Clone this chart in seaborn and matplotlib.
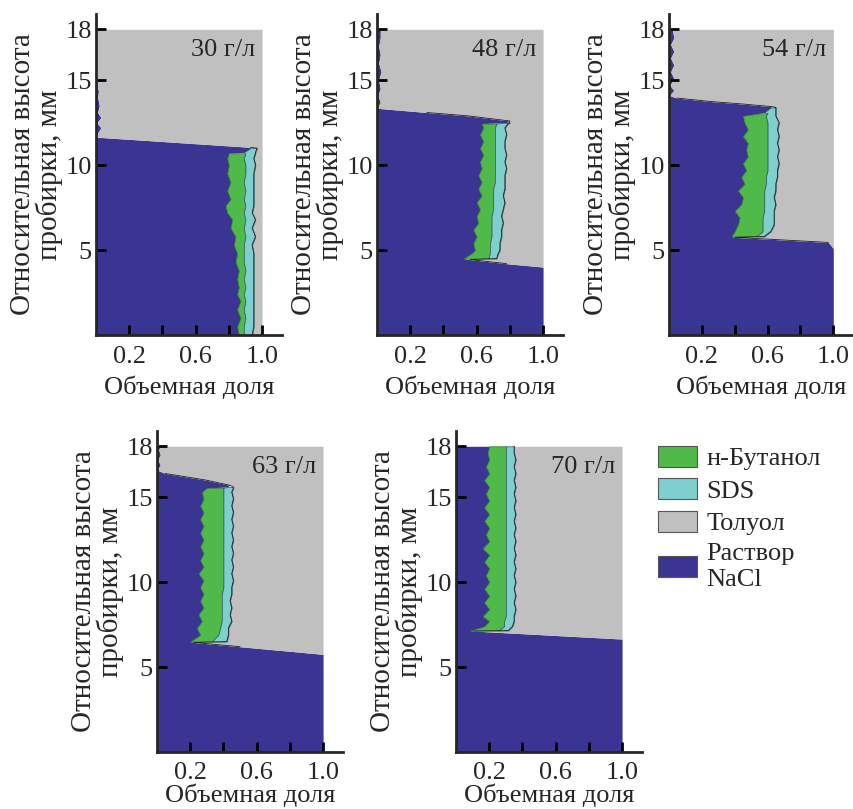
import numpy as np
import matplotlib
matplotlib.use("Agg")
import matplotlib.pyplot as plt
from matplotlib.patches import Patch
import seaborn as sns

# ---------------- data (volume fractions vs. relative height, mm) ----------------
PANEL_LABELS = ["30 г/л", "48 г/л", "54 г/л", "63 г/л", "70 г/л"]
LEGEND_LABELS = ["н-Бутанол", "SDS", "Толуол", "Раствор\nNaCl"]
XTICKS = [0.2, 0.4, 0.6, 0.8, 1.0]
XTICKLABELS = ["0.2", "", "0.6", "", "1.0"]
YTICKS = [5, 10, 15, 18]

H30 = [0.0, 0.5, 1.0, 1.5, 2.0, 2.4, 2.8, 3.3, 3.8, 4.3, 4.8, 5.3, 5.8, 6.3, 6.8,
       7.2, 7.6, 8.0, 8.5, 9.0, 9.5, 10.0, 10.4, 10.7, 10.75, 11.0, 11.05, 11.65,
       11.9, 12.2, 12.5, 12.8, 13.1, 13.5, 14.0, 14.4, 14.6, 18.0]
NACL30 = [0.86, 0.85, 0.87, 0.85, 0.87, 0.85, 0.86, 0.85, 0.86, 0.84, 0.85, 0.83, 0.84,
          0.81, 0.82, 0.79, 0.78, 0.81, 0.79, 0.81, 0.79, 0.80, 0.79, 0.80, 0.89, 0.93,
          0.93, 0.0, 0.01, 0.03, 0.005, 0.03, 0.01, 0.02, 0.01, 0.015, 0.0, 0.0]
BUT30 = [0.03, 0.04, 0.03, 0.04, 0.03, 0.04, 0.04, 0.04, 0.04, 0.05, 0.04, 0.06, 0.06,
         0.08, 0.08, 0.10, 0.12, 0.08, 0.11, 0.08, 0.11, 0.10, 0.10, 0.10, 0.0, 0.0,
         0.0, 0.0, 0.0, 0.0, 0.0, 0.0, 0.0, 0.0, 0.0, 0.0, 0.0, 0.0]
SDS30 = [0.05, 0.06, 0.05, 0.06, 0.05, 0.06, 0.05, 0.06, 0.05, 0.06, 0.06, 0.05, 0.06,
         0.05, 0.06, 0.05, 0.05, 0.06, 0.05, 0.06, 0.05, 0.06, 0.06, 0.06, 0.07, 0.04,
         0.0, 0.0, 0.0, 0.0, 0.0, 0.0, 0.0, 0.0, 0.0, 0.0, 0.0, 0.0]

H48 = [0.0, 4.0, 4.2, 4.44, 4.5, 4.8, 5.0, 5.4, 5.8, 6.2, 6.6, 7.0, 7.4, 7.8, 8.2, 8.6,
       9.0, 9.4, 9.8, 10.2, 10.6, 11.0, 11.4, 11.8, 12.2, 12.45, 12.5, 12.6, 12.9, 13.1,
       13.35, 13.7, 14.1, 14.5, 15.0, 15.5, 16.0, 16.5, 17.0, 17.5, 18.0]
NACL48 = [1.0, 1.0, 0.78, 0.56, 0.52, 0.57, 0.59, 0.58, 0.60, 0.58, 0.61, 0.60, 0.62,
          0.60, 0.63, 0.61, 0.63, 0.61, 0.63, 0.62, 0.64, 0.62, 0.64, 0.62, 0.64, 0.63,
          0.78, 0.80, 0.55, 0.30, 0.0, 0.02, 0.005, 0.02, 0.01, 0.025, 0.01, 0.02, 0.01,
          0.02, 0.02]
BUT48 = [0.0, 0.0, 0.0, 0.0, 0.15, 0.11, 0.09, 0.10, 0.09, 0.11, 0.08, 0.09, 0.08, 0.10,
         0.07, 0.09, 0.08, 0.10, 0.08, 0.09, 0.07, 0.09, 0.07, 0.09, 0.07, 0.09, 0.0,
         0.0, 0.0, 0.0, 0.0, 0.0, 0.0, 0.0, 0.0, 0.0, 0.0, 0.0, 0.0, 0.0, 0.0]
SDS48 = [0.0, 0.0, 0.0, 0.0, 0.05, 0.05, 0.06, 0.06, 0.06, 0.06, 0.07, 0.06, 0.06, 0.07,
         0.06, 0.07, 0.06, 0.06, 0.07, 0.06, 0.07, 0.06, 0.06, 0.07, 0.06, 0.07, 0.02,
         0.0, 0.0, 0.0, 0.0, 0.0, 0.0, 0.0, 0.0, 0.0, 0.0, 0.0, 0.0, 0.0, 0.0]

H54 = [0.0, 5.1, 5.45, 5.75, 5.8, 6.1, 6.5, 6.9, 7.3, 7.7, 8.1, 8.5, 8.9, 9.3, 9.7, 10.1,
       10.5, 10.9, 11.3, 11.7, 12.1, 12.5, 12.9, 13.05, 13.1, 13.4, 13.45, 13.6, 13.75,
       13.95, 14.1, 14.4, 14.7, 15.1, 15.5, 15.9, 16.3, 16.7, 17.1, 17.5, 18.0]
NACL54 = [1.0, 1.0, 0.97, 0.40, 0.38, 0.40, 0.42, 0.43, 0.40, 0.44, 0.45, 0.42, 0.46,
          0.44, 0.47, 0.45, 0.48, 0.47, 0.48, 0.45, 0.48, 0.46, 0.45, 0.55, 0.58, 0.62,
          0.62, 0.45, 0.25, 0.05, 0.0, 0.03, 0.005, 0.03, 0.01, 0.03, 0.01, 0.03, 0.01,
          0.03, 0.02]
BUT54 = [0.0, 0.0, 0.0, 0.0, 0.15, 0.17, 0.15, 0.14, 0.18, 0.14, 0.13, 0.16, 0.13, 0.15,
         0.13, 0.15, 0.12, 0.13, 0.12, 0.15, 0.12, 0.14, 0.14, 0.05, 0.0, 0.0, 0.0, 0.0,
         0.0, 0.0, 0.0, 0.0, 0.0, 0.0, 0.0, 0.0, 0.0, 0.0, 0.0, 0.0, 0.0]
SDS54 = [0.0, 0.0, 0.0, 0.0, 0.05, 0.05, 0.07, 0.07, 0.06, 0.07, 0.06, 0.07, 0.06, 0.07,
         0.06, 0.07, 0.06, 0.07, 0.06, 0.07, 0.06, 0.07, 0.06, 0.05, 0.07, 0.03, 0.0,
         0.0, 0.0, 0.0, 0.0, 0.0, 0.0, 0.0, 0.0, 0.0, 0.0, 0.0, 0.0, 0.0, 0.0]

H63 = [0.0, 5.75, 6.2, 6.45, 6.5, 6.9, 7.3, 7.7, 8.1, 8.5, 8.9, 9.3, 9.7, 10.1, 10.5,
       10.9, 11.3, 11.7, 12.1, 12.5, 12.9, 13.3, 13.7, 14.1, 14.5, 14.9, 15.3, 15.55,
       15.6, 15.7, 16.0, 16.4, 16.6, 16.9, 17.2, 17.5, 17.8, 18.0]
NACL63 = [1.0, 1.0, 0.50, 0.22, 0.20, 0.26, 0.24, 0.27, 0.25, 0.28, 0.26, 0.28, 0.26,
          0.28, 0.25, 0.28, 0.26, 0.28, 0.26, 0.28, 0.26, 0.28, 0.26, 0.28, 0.26, 0.28,
          0.27, 0.30, 0.42, 0.44, 0.30, 0.05, 0.0, 0.02, 0.005, 0.02, 0.01, 0.02]
BUT63 = [0.0, 0.0, 0.0, 0.0, 0.13, 0.11, 0.14, 0.12, 0.14, 0.11, 0.13, 0.11, 0.14, 0.12,
         0.15, 0.12, 0.14, 0.12, 0.14, 0.12, 0.14, 0.12, 0.14, 0.12, 0.14, 0.12, 0.13,
         0.10, 0.0, 0.0, 0.0, 0.0, 0.0, 0.0, 0.0, 0.0, 0.0, 0.0]
SDS63 = [0.0, 0.0, 0.0, 0.0, 0.09, 0.06, 0.05, 0.06, 0.05, 0.06, 0.05, 0.06, 0.05, 0.06,
         0.05, 0.06, 0.05, 0.06, 0.05, 0.06, 0.05, 0.06, 0.05, 0.06, 0.05, 0.06, 0.05,
         0.06, 0.04, 0.0, 0.0, 0.0, 0.0, 0.0, 0.0, 0.0, 0.0, 0.0]

H70 = [0.0, 6.65, 7.12, 7.15, 7.4, 7.7, 8.0, 8.4, 8.8, 9.2, 9.6, 10.0, 10.4, 10.8, 11.2,
       11.6, 12.0, 12.4, 12.8, 13.2, 13.6, 14.0, 14.4, 14.8, 15.2, 15.6, 16.0, 16.4,
       16.8, 17.2, 17.6, 18.0]
NACL70 = [1.0, 1.0, 0.11, 0.085, 0.17, 0.20, 0.16, 0.20, 0.17, 0.20, 0.17, 0.20, 0.18,
          0.20, 0.17, 0.20, 0.16, 0.20, 0.18, 0.20, 0.17, 0.20, 0.17, 0.20, 0.18, 0.20,
          0.17, 0.20, 0.18, 0.20, 0.19, 0.20]
BUT70 = [0.0, 0.0, 0.0, 0.17, 0.12, 0.09, 0.14, 0.10, 0.13, 0.10, 0.13, 0.10, 0.12, 0.10,
         0.13, 0.10, 0.14, 0.10, 0.12, 0.10, 0.13, 0.10, 0.13, 0.10, 0.12, 0.10, 0.13,
         0.10, 0.12, 0.10, 0.11, 0.10]
SDS70 = [0.0, 0.0, 0.0, 0.06, 0.05, 0.06, 0.05, 0.06, 0.05, 0.06, 0.05, 0.06, 0.05, 0.06,
         0.05, 0.06, 0.05, 0.06, 0.05, 0.06, 0.05, 0.06, 0.05, 0.06, 0.05, 0.06, 0.05,
         0.06, 0.05, 0.06, 0.05, 0.05]

PANELS = [
    (H30, NACL30, BUT30, SDS30),
    (H48, NACL48, BUT48, SDS48),
    (H54, NACL54, BUT54, SDS54),
    (H63, NACL63, BUT63, SDS63),
    (H70, NACL70, BUT70, SDS70),
]

# ---------------- style ----------------
sns.set_style("ticks")
plt.rcParams["font.family"] = ["Liberation Serif", "DejaVu Serif"]
FS = 19

C_NACL = "#3a3592"
C_BUT = "#4fb94a"
C_SDS = "#7fcfcf"
C_TOL = "#c0c0c0"
EDGE = "#222222"

W, H = 854, 809
fig = plt.figure(figsize=(W / 100, H / 100), dpi=100)

# axes boxes in pixels: left, right, top, bottom
BOXES = [(96, 282, 14, 335), (377, 563, 14, 335), (669, 853, 14, 335),
         (157, 343, 431, 752), (456, 642, 431, 752)]
XLABEL_PADS = [5, 5, 5, 0, 0]
XTICK_PADS = [8, 8, 8, 7, 7]

for (h, nacl, but, sds), lab, (l, r, t, b), lp, tp in zip(
        PANELS, PANEL_LABELS, BOXES, XLABEL_PADS, XTICK_PADS):
    ax = fig.add_axes([l / W, 1 - b / H, (r - l) / W, (b - t) / H])
    h = np.array(h)
    e1 = np.array(nacl)
    e2 = e1 + np.array(but)
    e3 = e2 + np.array(sds)
    ax.fill_betweenx(h, 0, e1, color=C_NACL, lw=0, zorder=1)
    ax.fill_betweenx(h, e3, 1.0, color=C_TOL, lw=0, zorder=1)
    mb = np.array(but) > 0
    ax.fill_betweenx(h, e1, e2, where=mb, facecolor=C_BUT, edgecolor="#2f6f2a",
                     lw=0.5, zorder=2)
    ms = np.array(sds) > 0
    ax.fill_betweenx(h, e2, e3, where=ms, facecolor=C_SDS, edgecolor="#2a5a5a",
                     lw=0.5, zorder=2)
    line = np.where((e3 > 0.995) | (e3 < 0.05), np.nan, e3)
    ax.plot(line, h, color=EDGE, lw=0.6, zorder=3)

    ax.set_xlim(0, 1.12)
    ax.set_ylim(0, 18.9)
    ax.set_xticks(XTICKS)
    ax.set_xticklabels(XTICKLABELS)
    ax.set_yticks(YTICKS)
    ax.tick_params(axis="both", direction="in", length=7, width=2, color="black",
                   labelsize=FS)
    ax.tick_params(axis="x", pad=tp)
    ax.tick_params(axis="y", pad=3)
    for s in ("top", "right"):
        ax.spines[s].set_visible(False)
    for s in ("left", "bottom"):
        ax.spines[s].set_linewidth(2)
        ax.spines[s].set_zorder(5)
    ax.set_axisbelow(False)
    ax.set_xlabel("Объемная доля", fontsize=FS, labelpad=lp)
    ax.set_ylabel("Относительная высота\nпробирки, мм", fontsize=21, labelpad=2,
                  linespacing=0.95)
    ax.text(0.96, 16.8, lab, ha="right", va="center", fontsize=FS, zorder=6)

handles = [Patch(facecolor=C_BUT, edgecolor="#555555", lw=0.8),
           Patch(facecolor=C_SDS, edgecolor="#555555", lw=0.8),
           Patch(facecolor=C_TOL, edgecolor="#555555", lw=0.8),
           Patch(facecolor=C_NACL, edgecolor="#555555", lw=0.8)]
fig.legend(handles, LEGEND_LABELS, loc="upper left",
           bbox_to_anchor=(655 / W, 1 - 443 / H), frameon=False, fontsize=FS,
           handlelength=1.5, handleheight=0.85, handletextpad=0.35, labelspacing=0.3,
           borderaxespad=0, borderpad=0.1)

fig.savefig("out.png", dpi=100)
